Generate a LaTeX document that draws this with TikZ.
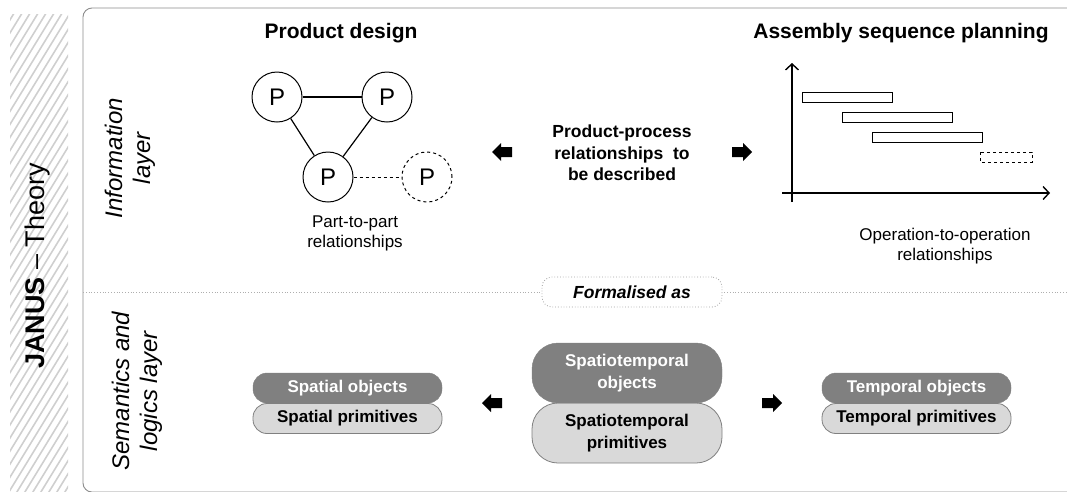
\documentclass[tikz,border=0pt]{standalone}
\usepackage{fontspec}
\setmainfont{Liberation Sans}
\usetikzlibrary{arrows.meta}
\definecolor{hatch}{HTML}{CFCFCF}
\definecolor{frameg}{HTML}{8C8C8C}
\definecolor{darkbox}{HTML}{808080}
\definecolor{lightbox}{HTML}{D9D9D9}
\tikzset{
  pnode/.style={circle, draw, line width=1pt, minimum size=50pt, inner sep=0pt, font=\fontsize{24}{28}\selectfont},
  title/.style={font=\fontsize{21}{25}\selectfont\bfseries},
  caption/.style={align=center, font=\fontsize{17}{20}\selectfont},
  layer/.style={rotate=90, align=center, font=\fontsize{24}{28}\selectfont\itshape},
  bar/.style={draw, line width=1pt},
  objbox/.style={fill=darkbox, draw=darkbox, text=white, rounded corners=14pt, font=\fontsize{17}{20}\selectfont\bfseries, align=center},
  primbox/.style={fill=lightbox, draw=darkbox, line width=0.8pt, rounded corners=14pt, font=\fontsize{17}{20}\selectfont\bfseries, align=center},
}
\begin{document}
\begin{tikzpicture}[x=1pt,y=-1pt]
\useasboundingbox (0,0) rectangle (1067,491);
% hatched band
\begin{scope}
\clip (10,14) rectangle (68,491);
\foreach \k in {0,...,46} {
  \draw[hatch, line width=1.6pt] (-300+\k*8, 500) -- ++(300,-490);
}
\end{scope}
\node[rotate=90, font=\fontsize{27}{30}\selectfont] (janus) at (38,266) {\textbf{JANUS} -- Theory};
% frame
\draw[frameg, line width=0.9pt, rounded corners=9pt] (1090,8) -- (83,8) -- (83,492) -- (1090,492);
\draw[frameg!70, dotted, line width=0.8pt] (83,292) -- (1067,292);
\node[draw=frameg!80, dotted, line width=0.8pt, fill=white, rounded corners=10pt, minimum width=180pt, minimum height=30pt, font=\fontsize{17.5}{20}\selectfont\bfseries\itshape] (form) at (632,292) {Formalised as};
% layer labels
\node[layer] (info) at (130,158) {Information\\layer};
\node[layer] (sem) at (137,391) {Semantics and\\logics layer};
% product design
\node[title] (pd) at (341,33) {Product design};
\node[pnode] (p1) at (277,97) {P};
\node[pnode] (p2) at (387,97) {P};
\node[pnode] (p3) at (328,177) {P};
\node[pnode, dashed] (p4) at (427,177) {P};
\draw[line width=1.2pt] (p1) -- (p2);
\draw[line width=1.2pt] (p1) -- (p3);
\draw[line width=1.2pt] (p2) -- (p3);
\draw[line width=1pt, dashed] (p3) -- (p4);
\node[caption] (ptp) at (355,233) {Part-to-part\\relationships};
% centre text
\node[align=center, font=\fontsize{17.5}{21.5}\selectfont\bfseries] (pp) at (622,153) {Product-process\\relationships\ \ to\\be described};
\fill (492,152) -- ++(9,-9) -- ++(0,4) -- ++(11,0) -- ++(0,10) -- ++(-11,0) -- ++(0,4) -- cycle;
\fill (752,152) -- ++(-9,-9) -- ++(0,4) -- ++(-11,0) -- ++(0,10) -- ++(11,0) -- ++(0,4) -- cycle;
% assembly sequence planning
\node[title] (asp) at (901,33) {Assembly sequence planning};
\coordinate (yb) at (792,202);
\coordinate (yt) at (792,63);
\coordinate (xl) at (782,193);
\coordinate (xr) at (1050,193);
\draw[line width=1.4pt, -{Straight Barb[length=6pt,width=13pt]}] (yb) -- (yt);
\draw[line width=1.4pt, -{Straight Barb[length=6pt,width=13pt]}] (xl) -- (xr);
\draw[bar] (802,92) rectangle (892,102);
\draw[bar] (842,112) rectangle (952,122);
\draw[bar] (872,132) rectangle (982,142);
\draw[bar, dashed] (980,152) rectangle (1032,162);
\node[caption] (oto) at (945,246) {Operation-to-operation\\relationships};
% bottom layer
\node[primbox, minimum width=189pt, minimum height=30pt] (sprim) at (347.5,418.5) {Spatial primitives};
\node[objbox, minimum width=189pt, minimum height=30pt] (sobj) at (347.5,388) {Spatial objects};
\node[primbox, minimum width=190pt, minimum height=60pt, rounded corners=26pt, font=\fontsize{17}{21.5}\selectfont\bfseries] (stprim) at (627,433) {Spatiotemporal\\primitives};
\node[objbox, minimum width=190pt, minimum height=60pt, rounded corners=26pt, font=\fontsize{17}{21.5}\selectfont\bfseries] (stobj) at (627,373) {Spatiotemporal\\objects};
\node[primbox, minimum width=189pt, minimum height=30pt] (tprim) at (916.5,418.5) {Temporal primitives};
\node[objbox, minimum width=189pt, minimum height=30pt] (tobj) at (916.5,388) {Temporal objects};
\fill (482,403) -- ++(9,-9) -- ++(0,4) -- ++(11,0) -- ++(0,10) -- ++(-11,0) -- ++(0,4) -- cycle;
\fill (782,403) -- ++(-9,-9) -- ++(0,4) -- ++(-11,0) -- ++(0,10) -- ++(11,0) -- ++(0,4) -- cycle;
\end{tikzpicture}
\end{document}
